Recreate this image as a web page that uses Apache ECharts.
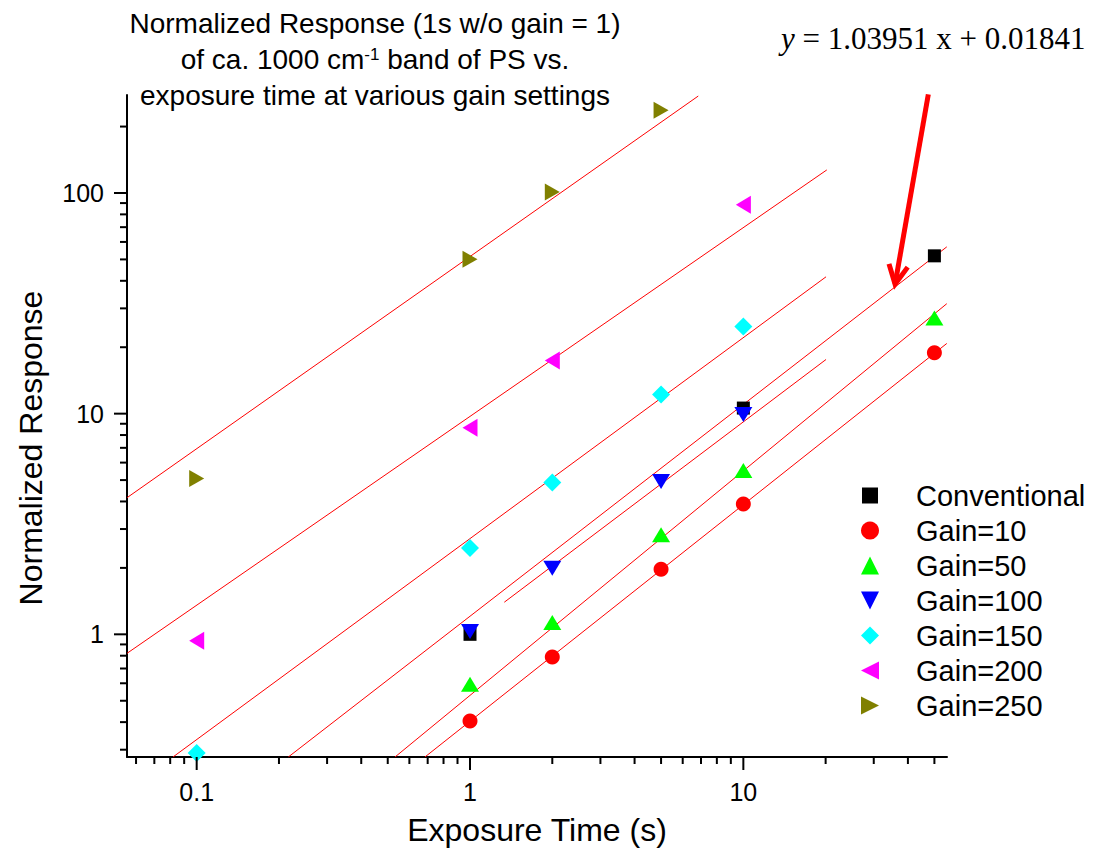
<!DOCTYPE html>
<html>
<head>
<meta charset="utf-8">
<script src="https://cdn.jsdelivr.net/npm/echarts@6/dist/echarts.min.js"></script>
<style>
  html, body { margin: 0; padding: 0; background: #ffffff; }
  #chart { width: 1096px; height: 858px; }
</style>
</head>
<body>
<div id="chart"></div>
<script>
// Normalized response of the ~1000 cm-1 PS band vs. exposure time (log-log)

const SANS = '"Liberation Sans", Arial, Helvetica, sans-serif';
const SERIF = '"Liberation Serif", "Times New Roman", serif';

// Axis ranges (three decades each)
const X_MIN = 0.0556, X_MAX = 55.6;
const Y_MIN = 0.278, Y_MAX = 278;

// Tick values and labels
const xMajorTicks = [0.1, 1, 10];
const xTickLabels = ['0.1', '1', '10'];
const xMinorTicks = [0.06, 0.07, 0.08, 0.09, 0.2, 0.3, 0.4, 0.5, 0.6, 0.7, 0.8, 0.9,
                     2, 3, 4, 5, 6, 7, 8, 9, 20, 30, 40, 50];
const yMajorTicks = [1, 10, 100];
const yTickLabels = ['1', '10', '100'];
const yMinorTicks = [0.3, 0.4, 0.5, 0.6, 0.7, 0.8, 0.9, 2, 3, 4, 5, 6, 7, 8, 9,
                     20, 30, 40, 50, 60, 70, 80, 90, 200];

// Measured responses (exposure time in s, normalized response)
const conventionalX = [1, 10, 50];
const conventionalY = [1.0, 10.6, 51.9];
const gain10X = [1, 2, 5, 10, 50];
const gain10Y = [0.405, 0.79, 1.97, 3.90, 18.9];
const gain50X = [1, 2, 5, 10, 50];
const gain50Y = [0.594, 1.13, 2.83, 5.53, 27.1];
const gain100X = [1, 2, 5, 10];
const gain100Y = [1.03, 1.99, 4.93, 9.9];
const gain150X = [0.1, 1, 2, 5, 10];
const gain150Y = [0.29, 2.46, 4.88, 12.2, 24.8];
const gain200X = [0.1, 1, 2, 10];
const gain200Y = [0.935, 8.63, 17.4, 88.5];
const gain250X = [0.1, 1, 2, 5];
const gain250Y = [5.08, 50.1, 101, 237];

// Fit lines, given by their end points
const fitConventionalX = [0.2164, 55.5];
const fitConventionalY = [0.278, 57.0];
const fitGain10X = [0.684, 55.5];
const fitGain10Y = [0.278, 20.8];
const fitGain50X = [0.5316, 55.5];
const fitGain50Y = [0.278, 31.5];
const fitGain100X = [1.335, 20.07];
const fitGain100Y = [1.398, 17.6];
const fitGain150X = [0.0819, 20.07];
const fitGain150Y = [0.278, 41.7];
const fitGain200X = [0.0556, 20.2];
const fitGain200Y = [0.820, 127.2];
const fitGain250X = [0.0556, 6.84];
const fitGain250Y = [4.16, 275];

// Arrow pointing at the conventional fit line: [tailX, tailY, tipX, tipY]
const arrowPoints = [47.5, 280, 35.9, 38.6];

const zip = (xs, ys) => xs.map((x, i) => [x, ys[i]]);

const TRI_DOWN = 'path://M0,0 L10,0 L5,10 Z';
const TRI_LEFT = 'path://M10,0 L10,10 L0,5 Z';
const TRI_RIGHT = 'path://M0,0 L10,5 L0,10 Z';

const scatterDefs = [
  { name: 'Conventional', xs: conventionalX, ys: conventionalY, color: '#000000', symbol: 'rect', size: 13 },
  { name: 'Gain=10', xs: gain10X, ys: gain10Y, color: '#ff0000', symbol: 'circle', size: 15 },
  { name: 'Gain=50', xs: gain50X, ys: gain50Y, color: '#00ff00', symbol: 'triangle', size: [18, 15] },
  { name: 'Gain=100', xs: gain100X, ys: gain100Y, color: '#0000ff', symbol: TRI_DOWN, size: [18, 15] },
  { name: 'Gain=150', xs: gain150X, ys: gain150Y, color: '#00ffff', symbol: 'diamond', size: [18, 18] },
  { name: 'Gain=200', xs: gain200X, ys: gain200Y, color: '#ff00ff', symbol: TRI_LEFT, size: [15, 18] },
  { name: 'Gain=250', xs: gain250X, ys: gain250Y, color: '#808000', symbol: TRI_RIGHT, size: [15, 17] }
];

const fitDefs = [
  { name: 'Conventional fit', xs: fitConventionalX, ys: fitConventionalY },
  { name: 'Gain=10 fit', xs: fitGain10X, ys: fitGain10Y },
  { name: 'Gain=50 fit', xs: fitGain50X, ys: fitGain50Y },
  { name: 'Gain=100 fit', xs: fitGain100X, ys: fitGain100Y },
  { name: 'Gain=150 fit', xs: fitGain150X, ys: fitGain150Y },
  { name: 'Gain=200 fit', xs: fitGain200X, ys: fitGain200Y },
  { name: 'Gain=250 fit', xs: fitGain250X, ys: fitGain250Y }
];

// Tick items: [x, y, axis (0 = x, 1 = y), major (1) / minor (0)]
const tickItems = []
  .concat(xMajorTicks.map(v => [v, Y_MIN, 0, 1]))
  .concat(xMinorTicks.map(v => [v, Y_MIN, 0, 0]))
  .concat(yMajorTicks.map(v => [X_MIN, v, 1, 1]))
  .concat(yMinorTicks.map(v => [X_MIN, v, 1, 0]));

function labelFor(ticks, labels) {
  return function (v) {
    const i = ticks.findIndex(t => Math.abs(Math.log10(v / t)) < 1e-6);
    return i >= 0 ? labels[i] : '';
  };
}

const chart = echarts.init(document.getElementById('chart'), null, { renderer: 'svg' });

const series = [];

fitDefs.forEach(d => {
  series.push({
    name: d.name,
    type: 'line',
    data: zip(d.xs, d.ys),
    symbol: 'none',
    silent: true,
    lineStyle: { color: '#ff0000', width: 1 },
    z: 2
  });
});

scatterDefs.forEach(d => {
  series.push({
    name: d.name,
    type: 'scatter',
    data: zip(d.xs, d.ys),
    symbol: d.symbol,
    symbolSize: d.size,
    itemStyle: { color: d.color, opacity: 1 },
    z: 3
  });
});

// Axis ticks (outward, major and minor) placed through the axis scales
series.push({
  name: 'ticks',
  type: 'custom',
  silent: true,
  clip: false,
  z: 5,
  data: tickItems,
  renderItem: function (params, api) {
    const p = api.coord([api.value(0), api.value(1)]);
    const isY = api.value(2) === 1;
    const len = api.value(3) === 1 ? 13 : 7;
    return {
      type: 'line',
      shape: isY
        ? { x1: p[0] - len, y1: p[1], x2: p[0], y2: p[1] }
        : { x1: p[0], y1: p[1], x2: p[0], y2: p[1] + len },
      style: { stroke: '#000000', lineWidth: 2 }
    };
  }
});

// Annotation arrow
series.push({
  name: 'arrow',
  type: 'custom',
  silent: true,
  clip: false,
  z: 6,
  encode: { x: [0, 2], y: [1, 3] },
  data: [arrowPoints],
  renderItem: function (params, api) {
    const p0 = api.coord([api.value(0), api.value(1)]);
    const p1 = api.coord([api.value(2), api.value(3)]);
    const dx = p1[0] - p0[0], dy = p1[1] - p0[1];
    const L = Math.sqrt(dx * dx + dy * dy);
    const ux = dx / L, uy = dy / L;
    const headLen = 19, headHalf = 9.5;
    const bx = p1[0] - ux * headLen, by = p1[1] - uy * headLen;
    const w1 = [bx - uy * headHalf, by + ux * headHalf];
    const w2 = [bx + uy * headHalf, by - ux * headHalf];
    return {
      type: 'group',
      children: [
        { type: 'line', shape: { x1: p0[0], y1: p0[1], x2: p1[0], y2: p1[1] },
          style: { stroke: '#ff0000', lineWidth: 5 } },
        { type: 'polyline', shape: { points: [w1, [p1[0], p1[1]], w2] },
          style: { stroke: '#ff0000', lineWidth: 5, fill: null, lineJoin: 'miter' } }
      ]
    };
  }
});

const legendData = scatterDefs.map(d => (
  d.name === 'Conventional'
    ? { name: d.name, itemStyle: { borderColor: '#ffffff', borderWidth: 2 } }
    : { name: d.name }
));

const option = {
  backgroundColor: '#ffffff',
  animation: false,
  grid: { left: 127, top: 95, width: 820, height: 662, containLabel: false, outerBoundsMode: 'none' },
  xAxis: {
    type: 'log',
    logBase: 10,
    min: X_MIN,
    max: X_MAX,
    name: 'Exposure Time (s)',
    nameLocation: 'middle',
    nameGap: 57,
    nameTextStyle: { fontSize: 32, fontFamily: SANS, color: '#000000', lineHeight: 32 },
    axisLine: { show: true, onZero: false, lineStyle: { color: '#000000', width: 2 } },
    axisTick: { show: false },
    minorTick: { show: false },
    splitLine: { show: false },
    minorSplitLine: { show: false },
    axisLabel: {
      show: true,
      margin: 22,
      fontSize: 25,
      fontFamily: SANS,
      color: '#000000',
      showMinLabel: true,
      showMaxLabel: true,
      formatter: labelFor(xMajorTicks, xTickLabels)
    }
  },
  yAxis: {
    type: 'log',
    logBase: 10,
    min: Y_MIN,
    max: Y_MAX,
    axisLine: { show: true, onZero: false, lineStyle: { color: '#000000', width: 2 } },
    axisTick: { show: false },
    minorTick: { show: false },
    splitLine: { show: false },
    minorSplitLine: { show: false },
    axisLabel: {
      show: true,
      margin: 23,
      fontSize: 25,
      fontFamily: SANS,
      color: '#000000',
      formatter: labelFor(yMajorTicks, yTickLabels)
    }
  },
  legend: {
    data: legendData,
    orient: 'vertical',
    left: 860,
    top: 478,
    padding: 0,
    itemGap: 0,
    itemWidth: 18,
    itemHeight: 18,
    selectedMode: false,
    textStyle: { fontSize: 29, fontFamily: SANS, color: '#000000', lineHeight: 35, padding: [0, 0, 0, 32] }
  },
  graphic: [
    { type: 'text', x: 375, y: 23.6, silent: true,
      style: { text: 'Normalized Response (1s w/o gain = 1)', align: 'center', verticalAlign: 'middle',
               fontSize: 28, fontFamily: SANS, fill: '#000000' } },
    { type: 'text', x: 375, y: 59.5, silent: true,
      style: { text: 'of ca. 1000 cm{sup|-1} band of PS vs.', align: 'center', verticalAlign: 'middle',
               fontSize: 28, fontFamily: SANS, fill: '#000000',
               rich: { sup: { fontSize: 17, fontFamily: SANS, fill: '#000000', verticalAlign: 'top' } } } },
    { type: 'text', x: 375, y: 95, silent: true,
      style: { text: 'exposure time at various gain settings', align: 'center', verticalAlign: 'middle',
               fontSize: 28, fontFamily: SANS, fill: '#000000' } },
    { type: 'text', x: 31, y: 448, rotation: Math.PI / 2, silent: true,
      style: { text: 'Normalized Response', align: 'center', verticalAlign: 'middle',
               fontSize: 32, fontFamily: SANS, fill: '#000000' } },
    { type: 'text', x: 781, y: 38.3, silent: true,
      style: { text: '{i|y} = 1.03951 x + 0.01841', align: 'left', verticalAlign: 'middle',
               fontSize: 31, fontFamily: SERIF, fill: '#000000',
               rich: { i: { fontSize: 31, fontFamily: SERIF, fontStyle: 'italic', fill: '#000000' } } } }
  ],
  series: series
};

chart.setOption(option);
</script>
</body>
</html>
